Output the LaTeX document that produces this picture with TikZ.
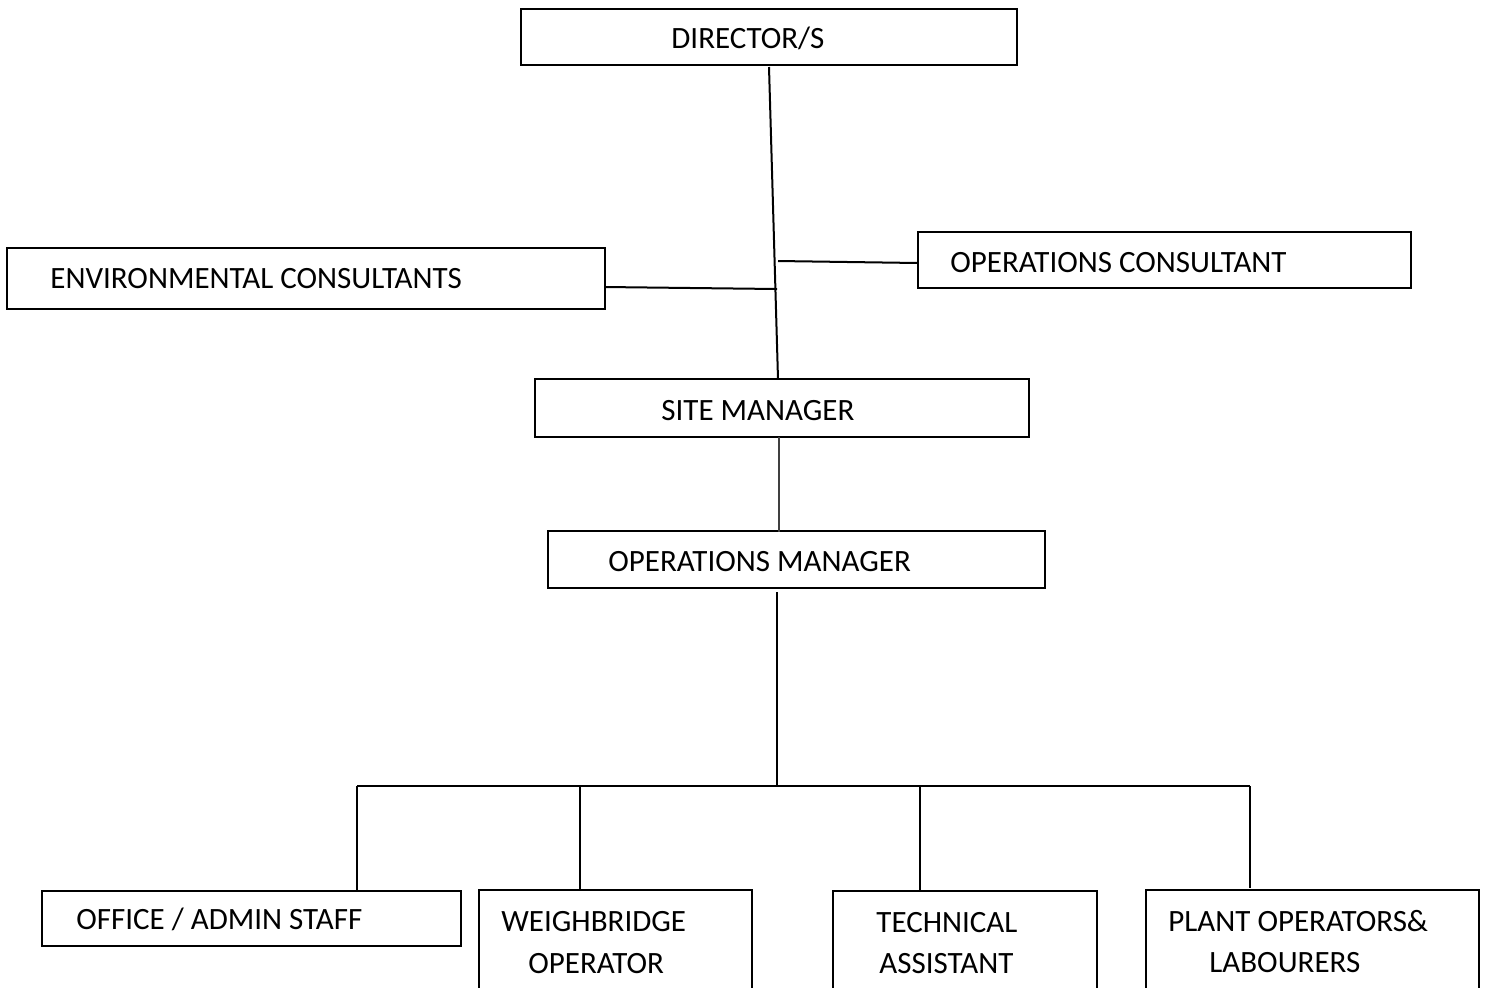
\documentclass[tikz,border=0pt]{standalone}
\usepackage{fontspec}
\setmainfont{Carlito}
\begin{document}
\begin{tikzpicture}[x=0.5pt,y=-0.5pt,
  box/.style={draw=black,line width=1pt,rectangle,inner sep=0pt,outer sep=0pt,anchor=north west,fill=white},
  lbl/.style={inner sep=0pt,anchor=base west,font=\fontsize{15.5pt}{18pt}\selectfont},
  conn/.style={draw=black,line width=1pt},
  thin/.style={draw=black!75,line width=0.6pt}]
\useasboundingbox (0,0) rectangle (1505,987);
\clip (0,0) rectangle (1505,987);
\fill[white] (0,0) rectangle (1505,987);
% boxes
\node[box,minimum width=248pt,minimum height=28pt] (dir) at (521,9) {};
\node[box,minimum width=299pt,minimum height=30.5pt] (env) at (7,248) {};
\node[box,minimum width=246.5pt,minimum height=28pt] (opc) at (918,232) {};
\node[box,minimum width=247pt,minimum height=29pt] (site) at (535,379) {};
\node[box,minimum width=248.5pt,minimum height=28.5pt] (opm) at (548,531) {};
\node[box,minimum width=209.5pt,minimum height=27.5pt] (off) at (42,891) {};
\node[box,minimum width=136.5pt,minimum height=60pt] (wb) at (479,890) {};
\node[box,minimum width=132pt,minimum height=60pt] (tech) at (833,891) {};
\node[box,minimum width=166.5pt,minimum height=60pt] (plant) at (1146,890) {};
% labels
\node[lbl] (tdir) at (671,48) {DIRECTOR/S};
\node[lbl] (tenv) at (50,288) {ENVIRONMENTAL CONSULTANTS};
\node[lbl] (topc) at (950,272) {OPERATIONS CONSULTANT};
\node[lbl] (tsite) at (661,420) {SITE MANAGER};
\node[lbl] (topm) at (608,571) {OPERATIONS MANAGER};
\node[lbl] (toff) at (76,929) {OFFICE / ADMIN STAFF};
\node[lbl] (twb1) at (501,931) {WEIGHBRIDGE};
\node[lbl] (twb2) at (528,973) {OPERATOR};
\node[lbl] (ttech1) at (876,932) {TECHNICAL};
\node[lbl] (ttech2) at (879,973) {ASSISTANT};
\node[lbl] (tpl1) at (1168,931) {PLANT OPERATORS\&};
\node[lbl] (tpl2) at (1209,972) {LABOURERS};
% junction coordinates
\coordinate (dbot) at (769,67);
\coordinate (stop) at (778,379);
\coordinate (jenv) at (777,289);
\coordinate (eend) at (605,287);
\coordinate (jopc) at (778,261);
\coordinate (oend) at (918,263);
\coordinate (sbot) at (779,437);
\coordinate (otop) at (779,532);
\coordinate (obot) at (777,592);
\coordinate (bus) at (777,786);
\coordinate (b1) at (357,786);
\coordinate (b2) at (580,786);
\coordinate (b3) at (920,786);
\coordinate (b4) at (1250,786);
\coordinate (d1) at (357,891);
\coordinate (d2) at (580,890);
\coordinate (d3) at (920,891);
\coordinate (d4) at (1250,888);
% connectors
\draw[conn] (dbot) -- (stop);
\draw[conn] (eend) -- (jenv);
\draw[conn] (jopc) -- (oend);
\draw[thin] (sbot) -- (otop);
\draw[conn] (obot) -- (bus);
\draw[conn] (b1) -- (b4);
\draw[conn] (b1) -- (d1);
\draw[conn] (b2) -- (d2);
\draw[conn] (b3) -- (d3);
\draw[conn] (b4) -- (d4);
\end{tikzpicture}
\end{document}
